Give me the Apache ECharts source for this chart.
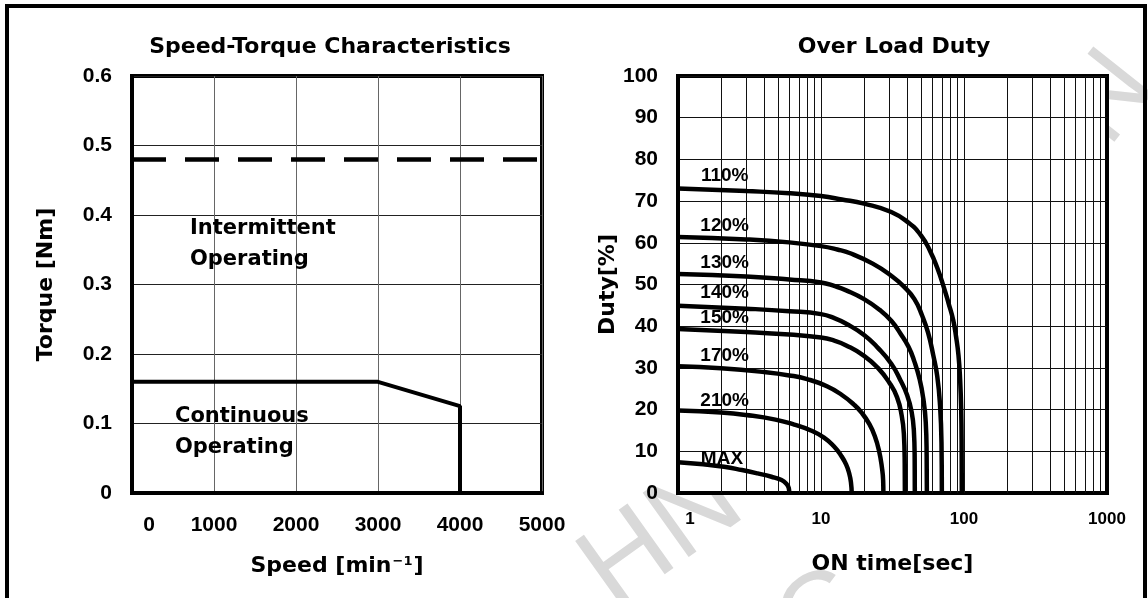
<!DOCTYPE html>
<html>
<head>
<meta charset="utf-8">
<title>Speed-Torque / Over Load Duty</title>
<script src="https://cdn.jsdelivr.net/npm/echarts/dist/echarts.min.js"></script>
<style>
  html, body { margin: 0; padding: 0; background: #fff; }
  #main { width: 1148px; height: 598px; }
</style>
</head>
<body>
<div id="main"></div>
<script>
// Speed-Torque Characteristics
var intermittentTorque = [[0, 0.48], [5000, 0.48]];
var continuousTorque = [[0, 0.16], [3000, 0.16], [4000, 0.125], [4000, 0]];
var areaLabels = [
  { text: 'Intermittent\nOperating', at: [707, 0.358] },
  { text: 'Continuous\nOperating', at: [524, 0.088] }
];

// Over Load Duty  [ON time(sec), duty(%)]
var duty110 = [[1, 73], [3, 72.4], [6, 71.9], [10, 71.2], [14, 70.4], [20, 69.4], [31, 67.4], [41, 64.8], [50, 61.8], [58, 58], [65, 54], [72, 49.5], [78, 45.5], [84, 41.5], [88, 37.5], [91.5, 33], [94, 27], [95.6, 20], [96.3, 10], [96.5, 0]];
var duty120 = [[1, 61.4], [3, 60.8], [6, 60.1], [10, 59.2], [13, 58.4], [16, 57.5], [23, 55], [31, 52.1], [38, 49.5], [45, 46.5], [51, 42.5], [56, 38.5], [61, 33], [65, 28], [68, 21], [69.6, 12], [70, 0]];
var duty130 = [[1, 52.5], [3, 51.9], [6, 51.2], [10, 50.5], [12.5, 49.6], [15, 48.6], [20, 46.5], [26, 43.8], [31, 41.3], [36, 38.2], [41, 35], [45, 31.5], [49, 27.2], [52, 22.5], [54, 17], [54.8, 9], [55, 0]];
var duty140 = [[1, 44.9], [3, 44.2], [6, 43.6], [10, 42.9], [12.5, 41.9], [15, 40.6], [20, 37.9], [25, 34.8], [31, 31], [36, 27], [40, 23.5], [43, 19.5], [44.6, 15], [45.2, 8], [45.3, 0]];
var duty150 = [[1, 39.3], [3, 38.6], [6, 38], [10, 37.3], [12.5, 36.5], [15, 35.4], [20, 32.9], [25, 30], [30, 26.5], [34, 23], [36.7, 18.5], [38, 14], [38.5, 7], [38.6, 0]];
var duty170 = [[1, 30.4], [2, 29.9], [4, 29], [6, 28.2], [8, 27.3], [11, 25.6], [14, 23.5], [17, 21.2], [19.3, 19.2], [21.8, 16.5], [23.8, 13.6], [25.5, 10], [26.7, 6], [27.2, 3], [27.3, 0]];
var duty210 = [[1, 19.8], [2, 19.3], [3, 18.7], [4.8, 17.6], [6.5, 16.4], [8.5, 15], [10.5, 13.3], [12.3, 11.2], [13.8, 9], [15, 6.8], [15.8, 4.5], [16.2, 2.5], [16.4, 0]];
var dutyMax = [[1, 7.4], [1.5, 6.9], [2.1, 6.3], [2.8, 5.5], [3.6, 4.7], [4.5, 3.9], [5.3, 3.1], [5.7, 2.3], [5.95, 1.2], [6, 0]];
var curveLabels = [
  { text: '110%', at: [2.12, 76] },
  { text: '120%', at: [2.12, 64] },
  { text: '130%', at: [2.12, 55.2] },
  { text: '140%', at: [2.12, 48] },
  { text: '150%', at: [2.12, 42] },
  { text: '170%', at: [2.12, 32.9] },
  { text: '210%', at: [2.12, 22] },
  { text: 'MAX', at: [2.03, 8.2] }
];
// log grid lines
var onTimeGridTicks = [2, 3, 4, 5, 6, 7, 8, 9, 10, 20, 30, 40, 50, 60, 70, 80, 90, 100, 200, 300, 400, 500, 600, 700, 800, 900];

var NUM_FONT = 'Liberation Sans, Arial, sans-serif';
var TEXT_FONT = 'DejaVu Sans, Verdana, sans-serif';

var myChart = echarts.init(document.getElementById('main'));

function curve(id, data) {
  return {
    id: id, type: 'line', xAxisIndex: 1, yAxisIndex: 1, data: data,
    smooth: 0.5, showSymbol: false, symbol: 'none',
    lineStyle: { color: '#000', width: 4.5 }, silent: true, z: 5
  };
}

var axisLabelBase = { color: '#000', fontWeight: 'bold', fontFamily: NUM_FONT };
var nameStyle = { color: '#000', fontWeight: 'bold', fontFamily: TEXT_FONT, fontSize: 22 };

var option = {
  animation: false,
  backgroundColor: '#fff',
  grid: [
    { left: 132, top: 76, width: 410, height: 417, show: true, backgroundColor: '#fff', borderColor: '#000', borderWidth: 4, outerBoundsMode: 'none', z: 0 },
    { left: 678, top: 76, width: 429, height: 417, show: true, backgroundColor: '#fff', borderColor: '#000', borderWidth: 4, outerBoundsMode: 'none', z: 0 }
  ],
  xAxis: [
    {
      gridIndex: 0, type: 'value', min: 0, max: 5000, interval: 1000, z: 1,
      name: 'Speed [min{sup|−1}]', nameLocation: 'middle', nameGap: 62,
      nameTextStyle: Object.assign({}, nameStyle, {
        rich: { sup: { fontSize: 13, fontWeight: 'bold', fontFamily: TEXT_FONT, verticalAlign: 'top', padding: [0, 1, 10, 1] } }
      }),
      axisLine: { show: true, lineStyle: { color: '#000', width: 4 } },
      axisTick: { show: false },
      axisLabel: Object.assign({}, axisLabelBase, {
        fontSize: 21, margin: 22,
        formatter: function (v) { return v === 0 ? '{first|0}' : String(v); },
        rich: { first: { padding: [0, 0, 0, 34], fontSize: 21, fontWeight: 'bold', fontFamily: NUM_FONT } }
      }),
      splitLine: { show: true, lineStyle: { color: '#666', width: 1 } }
    },
    {
      gridIndex: 1, type: 'log', logBase: 10, min: 1, max: 1000, z: 1,
      name: 'ON time[sec]', nameLocation: 'middle', nameGap: 60,
      nameTextStyle: nameStyle,
      axisLine: { show: true, lineStyle: { color: '#000', width: 4 } },
      axisTick: { show: false },
      axisLabel: Object.assign({}, axisLabelBase, {
        fontSize: 17, margin: 18,
        formatter: function (v) { return v === 1 ? '{first|1}' : String(v); },
        rich: { first: { padding: [0, 0, 0, 24], fontSize: 17, fontWeight: 'bold', fontFamily: NUM_FONT } }
      }),
      splitLine: { show: false }
    }
  ],
  yAxis: [
    {
      gridIndex: 0, type: 'value', min: 0, max: 0.6, interval: 0.1, z: 1,
      name: 'Torque [Nm]', nameLocation: 'middle', nameGap: 75,
      nameTextStyle: nameStyle,
      axisLine: { show: true, lineStyle: { color: '#000', width: 4 } },
      axisTick: { show: false },
      axisLabel: Object.assign({}, axisLabelBase, { fontSize: 21, margin: 20 }),
      splitLine: { show: true, lineStyle: { color: '#222', width: 1 } }
    },
    {
      gridIndex: 1, type: 'value', min: 0, max: 100, interval: 10, z: 1,
      name: 'Duty[%]', nameLocation: 'middle', nameGap: 57,
      nameTextStyle: nameStyle,
      axisLine: { show: true, lineStyle: { color: '#000', width: 4 } },
      axisTick: { show: false },
      axisLabel: Object.assign({}, axisLabelBase, { fontSize: 21, margin: 20 }),
      splitLine: { show: true, lineStyle: { color: '#111', width: 1 } }
    }
  ],
  graphic: [
    // page frame
    { id: 'frame', type: 'rect', z: 100, silent: true, shape: { x: 7, y: 6, width: 1138, height: 700 }, style: { fill: 'none', stroke: '#000', lineWidth: 4 } },
    // watermark (partly hidden behind the plot areas)
    { id: 'wm1', type: 'text', z: -10, silent: true, x: 595, y: 585, rotation: 0.62, style: { text: 'HN', fill: '#d9d9d9', font: '115px ' + NUM_FONT, align: 'left', verticalAlign: 'middle' } },
    { id: 'wm2', type: 'text', z: -10, silent: true, x: 790, y: 640, rotation: 0.6, style: { text: 'C', fill: '#d9d9d9', font: '110px ' + NUM_FONT, align: 'left', verticalAlign: 'middle' } },
    { id: 'wm3', type: 'text', z: -10, silent: true, x: 1085, y: 130, rotation: 0.9, style: { text: 'N', fill: '#d9d9d9', font: '110px ' + NUM_FONT, align: 'left', verticalAlign: 'middle' } },
    // titles
    { id: 't1', type: 'text', z: 50, silent: true, x: 330, y: 47, style: { text: 'Speed-Torque Characteristics', fill: '#000', font: 'bold 22px ' + TEXT_FONT, align: 'center', verticalAlign: 'middle' } },
    { id: 't2', type: 'text', z: 50, silent: true, x: 894, y: 47, style: { text: 'Over Load Duty', fill: '#000', font: 'bold 22px ' + TEXT_FONT, align: 'center', verticalAlign: 'middle' } }
  ],
  series: [
    {
      id: 'intermittent', type: 'line', xAxisIndex: 0, yAxisIndex: 0, data: intermittentTorque,
      showSymbol: false, symbol: 'none', silent: true, z: 5,
      lineStyle: { color: '#000', width: 4.5, type: [34, 19] }
    },
    {
      id: 'continuous', type: 'line', xAxisIndex: 0, yAxisIndex: 0, data: continuousTorque,
      showSymbol: false, symbol: 'none', silent: true, z: 5,
      lineStyle: { color: '#000', width: 4 }
    },
    {
      id: 'logGrid', type: 'line', xAxisIndex: 1, yAxisIndex: 1, data: [], silent: true, z: 1,
      markLine: {
        silent: true, symbol: 'none', animation: false,
        label: { show: false },
        lineStyle: { color: '#111', width: 1, type: 'solid' },
        data: onTimeGridTicks.map(function (t) { return { xAxis: t }; })
      }
    },
    curve('d110', duty110), curve('d120', duty120), curve('d130', duty130), curve('d140', duty140),
    curve('d150', duty150), curve('d170', duty170), curve('d210', duty210), curve('dMax', dutyMax)
  ]
};

myChart.setOption(option);

// annotation texts, placed through the axes' own scales
var notes = [];
areaLabels.forEach(function (a, i) {
  var p = myChart.convertToPixel({ gridIndex: 0 }, a.at);
  notes.push({ id: 'area' + i, type: 'text', z: 60, silent: true, x: p[0], y: p[1],
    style: { text: a.text, fill: '#000', font: 'bold 21px ' + TEXT_FONT, lineHeight: 31, align: 'left', verticalAlign: 'middle' } });
});
curveLabels.forEach(function (a, i) {
  var p = myChart.convertToPixel({ gridIndex: 1 }, a.at);
  notes.push({ id: 'curve' + i, type: 'text', z: 60, silent: true, x: p[0], y: p[1],
    style: { text: a.text, fill: '#000', font: 'bold 19px ' + NUM_FONT, align: 'center', verticalAlign: 'middle' } });
});
myChart.setOption({ graphic: notes });
</script>
</body>
</html>
